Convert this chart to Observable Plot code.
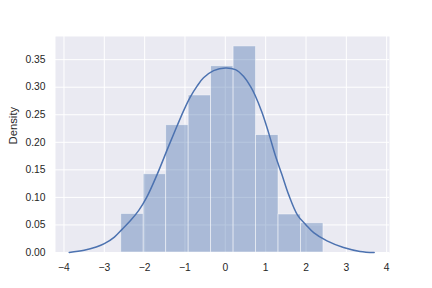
<!DOCTYPE html>
<html>
<head>
<meta charset="utf-8">
<script src="https://cdn.jsdelivr.net/npm/d3@7"></script>
<script src="https://cdn.jsdelivr.net/npm/@observablehq/plot@0.6"></script>
<style>
  html, body { margin: 0; padding: 0; background: #ffffff; }
</style>
</head>
<body>
<div id="chart"></div>
<script>
// Histogram bins (left/right edges) and density heights
const binStart = [-2.58, -2.023, -1.466, -0.909, -0.352, 0.205, 0.762, 1.319, 1.876];
const binEnd   = [-2.023, -1.466, -0.909, -0.352, 0.205, 0.762, 1.319, 1.876, 2.433];
const density  = [0.070, 0.142, 0.231, 0.285, 0.338, 0.374, 0.213, 0.069, 0.053];

// KDE curve
const kdeX = [-3.87, -3.5, -3.2, -3.0, -2.75, -2.56, -2.35, -2.15, -1.95, -1.7, -1.4, -1.2, -1.03, -0.87, -0.7, -0.54, -0.29, 0.0, 0.25, 0.45, 0.62, 0.74, 0.91, 1.07, 1.24, 1.4, 1.57, 1.79, 2.0, 2.19, 2.52, 2.93, 3.34, 3.69];
const kdeY = [0.0, 0.004, 0.010, 0.016, 0.028, 0.042, 0.058, 0.076, 0.100, 0.140, 0.194, 0.229, 0.258, 0.282, 0.302, 0.317, 0.330, 0.335, 0.332, 0.320, 0.302, 0.285, 0.254, 0.218, 0.176, 0.142, 0.105, 0.068, 0.050, 0.036, 0.021, 0.009, 0.002, 0.0];

const xTicks = [-4, -3, -2, -1, 0, 1, 2, 3, 4];
const yTicks = [0, 0.05, 0.10, 0.15, 0.20, 0.25, 0.30, 0.35];
const yLabel = "Density";

const bins = binStart.map((s, i) => ({x1: s, x2: binEnd[i], y: density[i]}));
const kde = kdeX.map((x, i) => ({x, y: kdeY[i]}));

const chart = Plot.plot({
  width: 432,
  height: 288,
  marginLeft: 55,
  marginRight: 43,
  marginTop: 36,
  marginBottom: 36,
  style: {
    fontFamily: "'Liberation Sans', Arial, sans-serif",
    fontSize: "10.3px",
    color: "#262626",
    background: "#ffffff"
  },
  x: {domain: [-4.21, 4.07]},
  y: {domain: [0, 0.392]},
  marks: [
    Plot.frame({fill: "#EAEAF2", stroke: null}),
    Plot.gridX(xTicks, {stroke: "#ffffff", strokeOpacity: 1, strokeWidth: 1}),
    Plot.gridY(yTicks, {stroke: "#ffffff", strokeOpacity: 1, strokeWidth: 1}),
    Plot.rectY(bins, {x1: "x1", x2: "x2", y: "y", fill: "#4C72B0", fillOpacity: 0.4, stroke: "#ffffff", strokeOpacity: 0.6, strokeWidth: 0.8, inset: 0}),
    Plot.line(kde, {x: "x", y: "y", stroke: "#4C72B0", strokeWidth: 1.5, curve: "catmull-rom"}),
    Plot.axisX({ticks: xTicks, tickSize: 0, tickPadding: 11, label: null, tickFormat: d3.format("d")}),
    Plot.axisY({ticks: yTicks, tickSize: 0, tickPadding: 10, tickFormat: d3.format(".2f"), label: null}),
    Plot.text([yLabel], {text: d => d, frameAnchor: "left", rotate: -90, dx: -42, fontSize: 11.3, fill: "#262626"})
  ]
});
document.getElementById("chart").appendChild(chart);
</script>
</body>
</html>
